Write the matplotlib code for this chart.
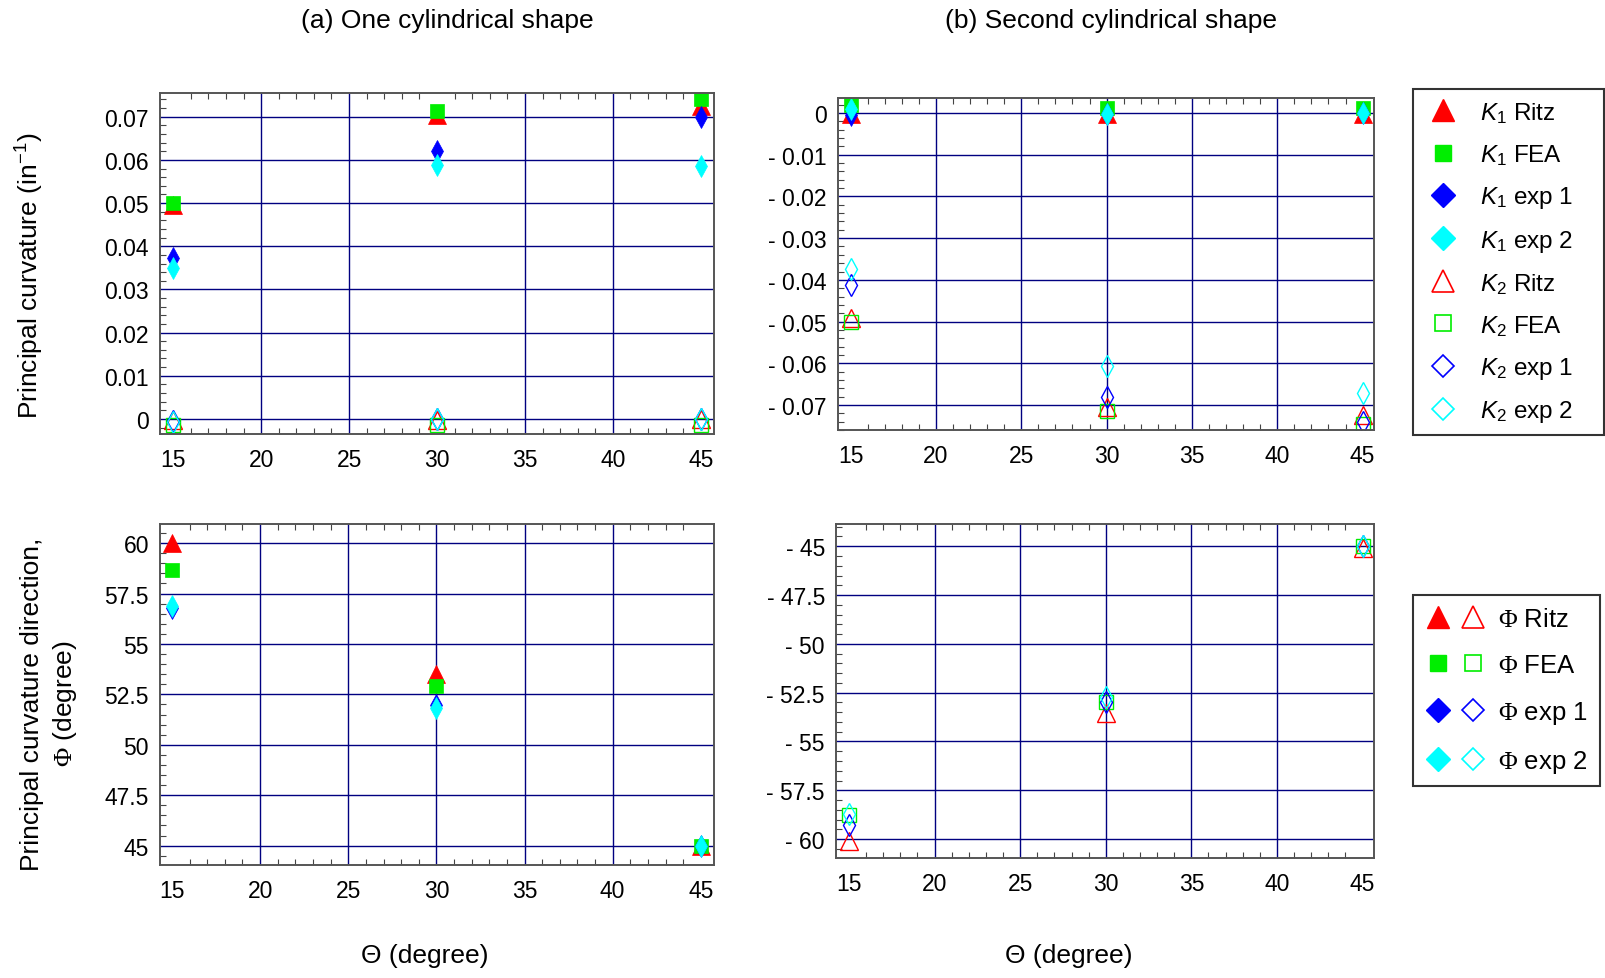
import numpy as np
import matplotlib
matplotlib.use("Agg")
import matplotlib.pyplot as plt
from matplotlib.lines import Line2D
from matplotlib.legend_handler import HandlerTuple
from matplotlib.ticker import MultipleLocator, FuncFormatter

plt.rcParams['font.family'] = 'Liberation Sans'
plt.rcParams['mathtext.fontset'] = 'custom'
plt.rcParams['mathtext.rm'] = 'Liberation Serif'
plt.rcParams['mathtext.it'] = 'Liberation Sans:italic'
plt.rcParams['mathtext.sf'] = 'Liberation Sans'

theta = [15, 30, 45]
series = ["Ritz", "FEA", "exp 1", "exp 2"]
colors = ["#ff0000", "#00ee00", "#0000ff", "#00ffff"]

# (a) one cylindrical shape - principal curvatures
a_k1 = [
    [0.0495, 0.0705, 0.0725],   # Ritz
    [0.0500, 0.0714, 0.0740],   # FEA
    [0.0372, 0.0621, 0.0700],   # exp 1
    [0.0349, 0.0589, 0.0585],   # exp 2
]
a_k2 = [
    [-0.0002, -0.0002, 0.0000],
    [-0.0015, -0.0015, -0.0015],
    [-0.0005, 0.0000, 0.0000],
    [-0.0007, 0.0000, 0.0000],
]
# (b) second cylindrical shape - principal curvatures
b_k1 = [
    [-0.0002, -0.0002, -0.0002],
    [0.0020, 0.0012, 0.0012],
    [-0.0005, -0.0002, 0.0000],
    [0.0010, -0.0002, 0.0000],
]
b_k2 = [
    [-0.0492, -0.0706, -0.0725],
    [-0.0500, -0.0714, -0.0745],
    [-0.0412, -0.0680, -0.0740],
    [-0.0375, -0.0606, -0.0672],
]
# principal curvature direction Phi (degree)
a_phi = [
    [60.0, 53.5, 45.0],
    [58.67, 52.92, 45.0],
    [56.77, 51.96, 45.0],
    [56.9, 51.82, 45.0],
]
b_phi = [
    [-60.1, -53.55, -45.1],
    [-58.77, -52.96, -45.0],
    [-59.3, -53.0, -45.0],
    [-58.7, -52.7, -45.0],
]

xgrid = [20, 25, 30, 35, 40]

W, H = 1606, 979
fig = plt.figure(figsize=(W / 100, H / 100), dpi=100)


def box(x0, y0, x1, y1):
    return [x0 / W, 1 - y1 / H, (x1 - x0) / W, (y1 - y0) / H]


def fmt(v, pos):
    v = round(v, 6)
    s = f"{abs(v):g}"
    return "- " + s if v < 0 else s


def style(ax, xlim, ylim, ystep, yminor, vlines=xgrid):
    ax.set_xlim(*xlim)
    ax.set_ylim(*ylim)
    ax.xaxis.set_major_locator(MultipleLocator(5))
    ax.xaxis.set_minor_locator(MultipleLocator(1))
    ax.yaxis.set_major_locator(MultipleLocator(ystep))
    ax.yaxis.set_minor_locator(MultipleLocator(yminor))
    ax.yaxis.set_major_formatter(FuncFormatter(fmt))
    ax.yaxis.grid(True, which="major", color="#000080", lw=1.0)
    for xv in vlines:
        ax.axvline(xv, color="#000080", lw=1.0, zorder=0.5)
    ax.set_axisbelow(True)
    ax.tick_params(which="major", length=0, labelsize=16.5)
    ax.tick_params(axis="y", which="major", pad=8)
    ax.tick_params(axis="x", which="major", pad=10)
    ax.tick_params(which="minor", direction="in", length=4, width=0.8,
                   top=True, color="#444444")
    for sp in ax.spines.values():
        sp.set_color("#555555")
        sp.set_linewidth(1.4)


filled_m = ["^", "s", "d", "d"]
filled_ms = [13.5, 9.5, 11, 11]


def draw(ax, data, filled):
    for y, m, ms, c in zip(data, filled_m, filled_ms, colors):
        if filled:
            ax.plot(theta, y, ls="none", marker=m, ms=ms, color=c, mec=c, mew=0.5)
        else:
            ax.plot(theta, y, ls="none", marker=m, ms=ms, mfc="none", mec=c, mew=1.0)


ax1 = fig.add_axes(box(160, 94, 714, 435))
style(ax1, (14.25, 45.75), (-0.0035, 0.0755), 0.01, 0.002, vlines=[20, 25, 35, 40])
draw(ax1, a_k1, True)
draw(ax1, a_k2, False)
ax1.set_ylabel("Principal curvature (in$^{\\mathsf{-1}}$)", fontsize=19)
ax1.yaxis.set_label_coords(-0.235, 0.468)
ax1.yaxis.label.set_va("center")

ax2 = fig.add_axes(box(838, 99, 1374, 431))
style(ax2, (14.26, 45.67), (-0.076, 0.0036), 0.01, 0.002)
draw(ax2, b_k1, True)
draw(ax2, b_k2, False)

ax3 = fig.add_axes(box(160, 525, 714, 866))
style(ax3, (14.32, 45.75), (44.04, 60.95), 2.5, 0.5)
draw(ax3, a_phi, True)
ax3.set_ylabel("Principal curvature direction,\n$\\Phi$ (degree)", fontsize=19,
               linespacing=1.35)
ax3.yaxis.set_label_coords(-0.199, 0.475)
ax3.yaxis.label.set_va("center")

ax4 = fig.add_axes(box(836, 525, 1374, 859))
style(ax4, (14.24, 45.67), (-60.97, -43.86), 2.5, 0.5)
draw(ax4, b_phi, False)

fig.text(425 / W, 1 - 956 / H, "Θ (degree)", fontsize=19, ha="center", va="center")
fig.text(1069 / W, 1 - 956 / H, "Θ (degree)", fontsize=19, ha="center", va="center")
fig.text(447 / W, 1 - 21 / H, "(a) One cylindrical shape", fontsize=19, ha="center", va="center")
fig.text(1111 / W, 1 - 21 / H, "(b) Second cylindrical shape", fontsize=19, ha="center", va="center")

# legend for curvatures
leg_m = ["^", "s", "D", "D"]
leg_ms = [16.5, 12, 12.2, 12.2]
h1, l1 = [], []
for k, filled in (("1", True), ("2", False)):
    for name, m, ms, c in zip(series, leg_m, leg_ms, colors):
        if filled:
            h1.append(Line2D([], [], ls="none", marker=m, ms=ms, color=c, mec=c))
        else:
            h1.append(Line2D([], [], ls="none", marker=m, ms=ms * 0.95, mfc="none", mec=c, mew=1.2))
        l1.append(f"$\\mathit{{K}}_\\mathsf{{{k}}}$ {name}")
lg1 = fig.legend(h1, l1, loc="upper left",
                 bbox_to_anchor=(1413 / W, 1 - 90 / H, (1604 - 1413) / W, 0),
                 mode="expand", fontsize=17.5, frameon=True, fancybox=False,
                 edgecolor="black", borderpad=0.45, labelspacing=0.71,
                 handlelength=1.6, handletextpad=0.7, borderaxespad=0)
lg1.get_frame().set_linewidth(1.5)

# legend for directions
h2, l2 = [], []
for name, m, ms, c in zip(series, leg_m, leg_ms, colors):
    f = Line2D([], [], ls="none", marker=m, ms=ms, color=c, mec=c)
    o = Line2D([], [], ls="none", marker=m, ms=ms * 0.95, mfc="none", mec=c, mew=1.2)
    h2.append((f, o))
    l2.append(f"$\\Phi$ {name}")
lg2 = fig.legend(h2, l2, loc="upper left",
                 bbox_to_anchor=(1413 / W, 1 - 596 / H, (1600 - 1413) / W, 0),
                 mode="expand", fontsize=18.5, frameon=True, fancybox=False,
                 edgecolor="black", borderpad=0.45, labelspacing=0.86,
                 handlelength=2.4, handletextpad=0.45, borderaxespad=0,
                 handler_map={tuple: HandlerTuple(ndivide=None, pad=0.3)})
lg2.get_frame().set_linewidth(1.5)

fig.savefig("out.png", dpi=100)
